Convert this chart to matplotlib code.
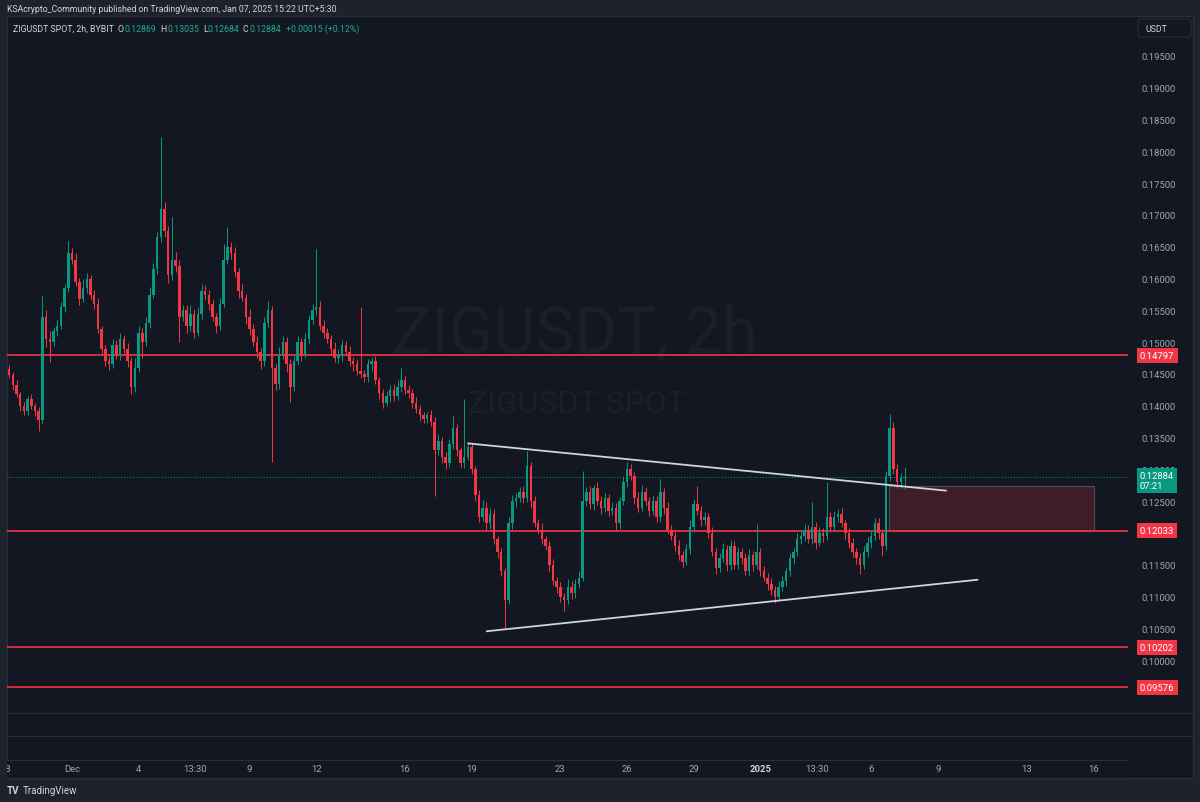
import numpy as np
import pandas as pd
import matplotlib
matplotlib.use('Agg')
import matplotlib.pyplot as plt
from matplotlib.transforms import blended_transform_factory, IdentityTransform
from matplotlib.patches import Rectangle, FancyBboxPatch
from matplotlib.lines import Line2D

plt.rcParams['font.family'] = ['Roboto', 'DejaVu Sans']

first_open = 1458
closes = [
    1448, 1432, 1418, 1400, 1392,                 # Nov 28
    1410, 1400, 1392, 1378, 1540, 1505,           # Nov 29
    1500, 1518, 1525, 1555, 1585, 1640,           # Nov 30
    1630, 1595, 1568, 1585, 1600, 1575,           # Dec 1
    1560, 1520, 1490, 1470, 1465, 1495,
    1480, 1505, 1490, 1470, 1430, 1460,
    1515, 1500, 1530, 1575, 1615, 1665,
    1710, 1675, 1605, 1630, 1620, 1540,           # Dec 5
    1550, 1525, 1545, 1515, 1545, 1580,
    1575, 1560, 1540, 1525, 1560, 1630,
    1650, 1640, 1610, 1580, 1570, 1540,
    1520, 1500, 1485, 1470, 1530, 1550,
    1460, 1435, 1480, 1500, 1465, 1430,           # Dec 10
    1470, 1500, 1480, 1505, 1535, 1550,
    1555, 1525, 1515, 1505, 1490, 1475,
    1480, 1495, 1485, 1470, 1465, 1455,
    1450, 1445, 1465, 1470, 1440, 1420,
    1405, 1415, 1425, 1415, 1430, 1440,           # Dec 15
    1425, 1420, 1405, 1395, 1385, 1380,
    1385, 1375, 1330, 1345, 1320, 1310,
    1340, 1365, 1330, 1310, 1320, 1335,
    1300, 1260, 1225, 1240, 1215, 1230,
    1190, 1170, 1140, 1095, 1215, 1250,           # Dec 20
    1255, 1265, 1255, 1305, 1250, 1215,
    1205, 1190, 1180, 1150, 1125, 1115,
    1100, 1095, 1115, 1105, 1120, 1130,
    1250, 1265, 1245, 1270, 1250, 1240,
    1255, 1235, 1240, 1215, 1250, 1280,           # Dec 25
    1300, 1290, 1255, 1240, 1265, 1250,
    1235, 1250, 1225, 1265, 1240, 1205,
    1195, 1180, 1165, 1155, 1175, 1210,
    1245, 1235, 1220, 1225, 1200, 1170,
    1145, 1160, 1175, 1150, 1180, 1150,           # Dec 30
    1170, 1160, 1140, 1165, 1150, 1170,
    1140, 1130, 1120, 1110, 1100, 1115,           # Jan 1
    1125, 1140, 1160, 1170, 1190, 1195,
    1205, 1190, 1210, 1185, 1200, 1195,
    1225, 1210, 1225, 1230, 1215, 1200,
    1185, 1170, 1160, 1150, 1170, 1185,           # Jan 5
    1195, 1215, 1200, 1180, 1290, 1365,
    1300, 1280, 1286.9, 1288.4,                   # Jan 7
]
wick_up = [
    6, 5, 8, 4, 6,
    5, 8, 4, 6, 33, 10,
    12, 6, 10, 8, 7, 19,
    8, 10, 6, 15, 9, 6,
    7, 9, 6, 5, 8, 10,
    9, 10, 7, 8, 6, 15,
    10, 8, 9, 12, 10, 8,
    113, 10, 8, 67, 12, 9,
    9, 8, 14, 7, 10, 12,
    10, 7, 8, 6, 9, 25,
    31, 8, 10, 7, 12, 6,
    12, 8, 9, 6, 10, 14,
    7, 6, 12, 10, 8, 9,
    8, 10, 6, 9, 8, 10,
    92, 9, 10, 8, 7, 10,
    10, 8, 7, 9, 6, 8,
    100, 7, 8, 6, 9, 5,
    6, 8, 7, 9, 10, 20,
    7, 8, 6, 9, 7, 6,
    6, 8, 7, 10, 6, 8,
    8, 19, 7, 6, 91, 8,
    7, 6, 8, 12, 9, 10,
    8, 6, 7, 5, 10, 9,
    8, 7, 9, 24, 6, 8,
    7, 10, 6, 8, 9, 6,
    8, 6, 12, 9, 7, 10,
    48, 7, 9, 6, 10, 8,
    8, 6, 9, 7, 6, 10,
    12, 8, 6, 9, 10, 7,
    7, 10, 8, 20, 6, 8,
    8, 6, 9, 7, 8, 10,
    9, 29, 7, 8, 6, 10,
    7, 8, 10, 6, 9, 8,
    8, 6, 9, 10, 7, 44,
    6, 8, 7, 9, 6, 10,
    8, 7, 9, 6, 10, 8,
    9, 8, 39, 7, 10, 8,
    55, 8, 10, 7, 9, 6,
    8, 7, 6, 9, 10, 8,
    10, 8, 9, 6, 8, 22,
    10, 9, 8, 15.1,
]
wick_dn = [
    5, 7, 4, 8, 6,
    6, 5, 8, 18, 6, 12,
    31, 6, 8, 5, 7, 6,
    7, 6, 10, 5, 8, 9,
    8, 6, 9, 7, 8, 5,
    6, 8, 7, 9, 12, 8,
    7, 25, 6, 8, 5, 7,
    8, 10, 12, 7, 9, 40,
    6, 10, 8, 9, 6, 8,
    8, 9, 7, 10, 6, 5,
    7, 9, 8, 10, 6, 12,
    8, 6, 10, 12, 7, 6,
    148, 10, 8, 6, 12, 24,
    7, 6, 9, 5, 8, 6,
    8, 6, 9, 7, 8, 6,
    7, 9, 6, 8, 10, 7,
    6, 8, 7, 10, 6, 9,
    8, 6, 9, 7, 6, 8,
    6, 7, 8, 6, 9, 7,
    7, 6, 72, 8, 10, 9,
    6, 8, 9, 7, 8, 6,
    8, 9, 7, 6, 10, 8,
    7, 9, 8, 46, 6, 8,
    9, 6, 8, 7, 10, 6,
    6, 8, 7, 9, 6, 10,
    9, 17, 6, 8, 7, 6,
    6, 8, 7, 9, 6, 10,
    7, 9, 6, 10, 8, 6,
    8, 6, 9, 7, 6, 8,
    9, 6, 8, 7, 10, 6,
    6, 8, 7, 9, 6, 8,
    8, 6, 9, 7, 8, 6,
    9, 7, 6, 10, 8, 7,
    7, 9, 6, 8, 10, 6,
    8, 6, 9, 7, 10, 6,
    6, 8, 7, 9, 6, 8,
    7, 6, 8, 10, 6, 9,
    6, 9, 7, 8, 6, 10,
    9, 7, 8, 15, 6, 8,
    8, 6, 10, 16, 6, 8,
    8, 10, 9, 18.5,
]

levels = [0.14797, 0.12033, 0.10202, 0.09576]
countdown = '07:21'
change_txt = '+0.00015 (+0.12%)'
# drawings, x in days since Dec 1
upper_x, upper_y = [17.81, 39.40], [0.13410, 0.12665]
lower_x, lower_y = [18.65, 40.82], [0.10454, 0.11266]
zone_x, zone_y = [36.8, 46.04], [0.12033, 0.1274]

time_pos = [-3, 0, 3, 5.5625, 8, 11, 15, 18, 22, 25, 28, 31, 33.5625, 36, 39, 43, 46]
time_lab = ['28', 'Dec', '4', '13:30', '9', '12', '16', '19', '23', '26', '29',
            '2025', '13:30', '6', '9', '13', '16']
price_ticks = np.arange(0.095, 0.19501, 0.005)

BG = '#131722'
OUT = '#1e222d'
GRID = '#2a2e39'
UP = '#089981'
DOWN = '#f23645'
TXT = '#d1d4dc'
AXT = '#a3a6af'

c = np.array(closes) / 10000
o = np.concatenate([[first_open / 10000], c[:-1]])
hi = np.maximum(o, c) + np.array(wick_up) / 10000
lo = np.minimum(o, c) - np.array(wick_dn) / 10000
times = pd.date_range('2024-11-28 04:00', periods=len(c), freq='4h')
t = ((times - pd.Timestamp('2024-12-01')) / pd.Timedelta('1D')).values
col = np.where(c >= o, UP, DOWN)

W, H = 1200, 803
fig = plt.figure(figsize=(W / 100, H / 100), dpi=100, facecolor=OUT)

def fx(px):
    return px / W

def fy(py):
    return 1 - py / H

# chart frame (behind the axes)
fig.add_artist(Rectangle((fx(7), fy(779)), fx(1193) - fx(7), fy(17) - fy(779),
                         transform=fig.transFigure, facecolor=BG, edgecolor=GRID, lw=1,
                         zorder=-5))

ax = fig.add_axes([fx(7), fy(761), fx(1128) - fx(7), fy(17) - fy(761)])
ax.set_facecolor('none')
ax.set_xlim(-65 / 22.2, 1056 / 22.2)
ax.set_ylim(0.195 - 704 / 6360, 0.195 + 40 / 6360)
for s in ax.spines.values():
    s.set_visible(False)
ax.set_xticks([])
ax.yaxis.tick_right()
ax.set_yticks(price_ticks)
# tradingview hides scale labels sitting under a line label
ax.set_yticklabels(['' if min(abs(v - lv) for lv in levels) < 0.0009 else f'{v:.5f}'
                    for v in price_ticks])
ax.tick_params(axis='y', length=0, pad=9.4, labelsize=6.8, labelcolor=AXT)

# watermark
ax.text(fx(575), fy(335), 'ZIGUSDT, 2h', transform=fig.transFigure, fontsize=47,
        color='#1b1f2a', ha='center', va='center', zorder=0)
ax.text(fx(577), fy(405), 'ZIGUSDT SPOT', transform=fig.transFigure, fontsize=23,
        color='#1b1f2a', ha='center', va='center', zorder=0)

# candles
ax.vlines(t, lo, hi, colors=col, lw=0.7, zorder=3)
body = np.maximum(np.abs(c - o), 0.00015)
ax.bar(t, body, bottom=np.minimum(o, c), width=0.11, color=col, lw=0, zorder=4)

# horizontal levels
for lv in levels:
    ax.axhline(lv, color=DOWN, lw=1.2, zorder=2)

# zone box
ax.add_patch(Rectangle((zone_x[0], zone_y[0]), zone_x[1] - zone_x[0], zone_y[1] - zone_y[0],
                       facecolor=(0.949, 0.212, 0.271, 0.2), edgecolor='#4a4e59', lw=0.8, zorder=1))

# trend lines
ax.plot(upper_x, upper_y, color='#d1d4dc', lw=1.3, zorder=5, solid_capstyle='butt')
ax.plot(lower_x, lower_y, color='#d1d4dc', lw=1.3, zorder=5, solid_capstyle='butt')

# last price line
last = c[-1]
ax.axhline(last, color=UP, lw=0.7, ls=(0, (1, 2)), zorder=2)

tr = blended_transform_factory(ax.transAxes, ax.transData)
lx = (1140 - 7) / 1121
for lv in levels:
    ax.text(lx, lv, f'{lv:.5f}', transform=tr, fontsize=6.8, color='white', ha='left',
            va='center', clip_on=False, zorder=10,
            bbox=dict(boxstyle='square,pad=0.32', fc=DOWN, ec='none'))
ax.annotate(f'{last:.5f}\n{countdown}', xy=(lx, last), xycoords=tr, xytext=(0, 4.5),
            textcoords='offset points', fontsize=6.8, color='white', ha='left', va='top',
            linespacing=1.15, annotation_clip=False, zorder=10,
            bbox=dict(boxstyle='square,pad=0.32', fc=UP, ec='none'))

# extra pane separators
for py in [714, 737]:
    fig.add_artist(Line2D([fx(7), fx(1193)], [fy(py), fy(py)], color=GRID, lw=0.8))

# time axis strip
axt = fig.add_axes([fx(7), fy(779), fx(1128) - fx(7), fy(761) - fy(779)])
axt.set_facecolor(BG)
axt.set_xlim(ax.get_xlim())
axt.set_ylim(0, 1)
axt.set_xticks([])
axt.set_yticks([])
for k, s in axt.spines.items():
    s.set_visible(k == 'top')
axt.spines['top'].set_color(GRID)
for p, lab in zip(time_pos, time_lab):
    axt.text(p, 0.5, lab, fontsize=6.8, color=TXT if lab == '2025' else AXT,
             fontweight='bold' if lab == '2025' else 'normal',
             ha='center', va='center', clip_on=True)

# USDT box
fig.add_artist(FancyBboxPatch((1138, H - 38), 53, 18, boxstyle='round,pad=0,rounding_size=3',
                              transform=IdentityTransform(), fc=BG, ec=GRID, lw=0.8))
fig.text(fx(1145), fy(29), 'USDT', fontsize=6.3, color=TXT, va='center')

# header texts
fig.text(fx(7), fy(9.5), 'KSAcrypto_Community published on TradingView.com, Jan 07, 2025 15:22 UTC+5:30',
         fontsize=6.3, color=TXT, va='center')
GREEN_T = '#22ab94'
legend_parts = [
    (12.7, 'ZIGUSDT SPOT, 2h, BYBIT', TXT),
    (117.5, 'O', TXT), (124.5, f'{o[-1]:.5f}', GREEN_T),
    (160.5, 'H', TXT), (167.5, f'{hi[-1]:.5f}', GREEN_T),
    (203, 'L', TXT), (208, f'{lo[-1]:.5f}', GREEN_T),
    (242.5, 'C', TXT), (249, f'{c[-1]:.5f}', GREEN_T),
    (286, change_txt, GREEN_T),
]
for px, s, cc in legend_parts:
    fig.text(fx(px), fy(29), s, fontsize=6.3, color=cc, va='center')

# logo
fig.text(fx(7), fy(791.5), 'TV', fontsize=7, color=TXT, va='center', fontweight='bold')
fig.text(fx(23), fy(791.5), 'TradingView', fontsize=7, color=TXT, va='center')

fig.savefig('out.png', dpi=100, facecolor=OUT)
